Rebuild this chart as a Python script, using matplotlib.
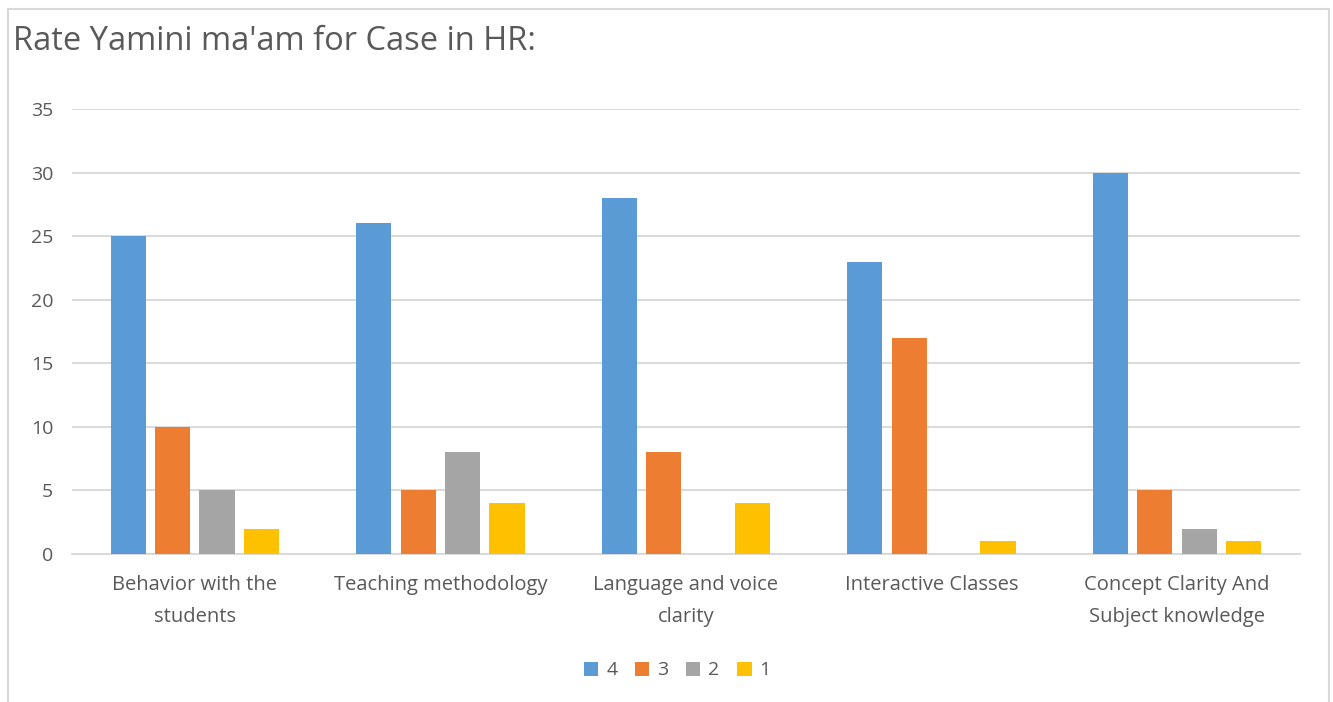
import matplotlib
matplotlib.use("Agg")
import matplotlib.pyplot as plt
import numpy as np
from matplotlib.patches import Rectangle

categories = ["Behavior with the\nstudents", "Teaching methodology",
              "Language and voice\nclarity", "Interactive Classes",
              "Concept Clarity And\nSubject knowledge"]
series_names = ["4", "3", "2", "1"]
rating_4 = [25, 26, 28, 23, 30]
rating_3 = [10, 5, 8, 17, 5]
rating_2 = [5, 8, 0, 0, 2]
rating_1 = [2, 4, 4, 1, 1]
colors = ["#5B9BD5", "#ED7D31", "#A5A5A5", "#FFC000"]
yticks = [0, 5, 10, 15, 20, 25, 30, 35]

plt.rcParams["font.family"] = ["Open Sans", "DejaVu Sans"]
txt = "#595959"
grid = "#D9D9D9"

fig = plt.figure(figsize=(13.33, 7.02), dpi=100)
ax = fig.add_axes([0.054, 0.2108, 0.921, 0.6339])

# chart border
fig.patches.append(Rectangle((0.006, -0.01), 0.991, 0.997, transform=fig.transFigure,
                             fill=False, edgecolor=grid, lw=1.5))

x = np.arange(len(categories))
pitch, width = 0.181, 0.143
for i, (vals, name) in enumerate(zip([rating_4, rating_3, rating_2, rating_1], series_names)):
    ax.bar(x + (i - 1.5) * pitch, vals, width, color=colors[i], label=name, zorder=3)

ax.set_xlim(-0.5, len(categories) - 0.5)
ax.set_ylim(0, 35)
ax.set_yticks(yticks)
ax.set_xticks(x)
ax.set_xticklabels(categories, linespacing=1.8)
ax.yaxis.grid(True, color=grid, lw=1.4, zorder=0)
for s in ["top", "right", "left"]:
    ax.spines[s].set_visible(False)
ax.spines["bottom"].set_color(grid)
ax.spines["bottom"].set_linewidth(1.4)
ax.tick_params(axis="both", length=0, colors=txt)
ax.tick_params(axis="y", pad=13.5, labelsize=14)
ax.tick_params(axis="x", pad=15, labelsize=14.5)

fig.text(0.0098, 0.941, "Rate Yamini ma'am for Case in HR:", fontsize=23.5,
         color=txt, va="center", ha="left")

fig.legend(loc="center", bbox_to_anchor=(0.508, 0.045), ncol=4, frameon=False,
           fontsize=14, labelcolor=txt, handlelength=0.75, handleheight=0.75,
           handletextpad=0.4, columnspacing=0.9)

fig.savefig("out.png", dpi=100)
